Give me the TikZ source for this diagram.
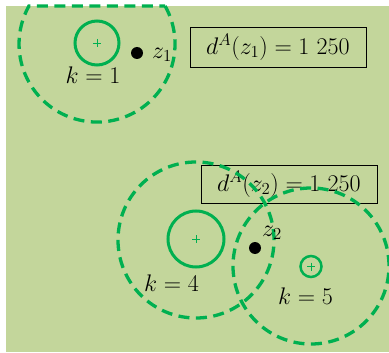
\RequirePackage{fix-cm}
\documentclass[tikz,border=0pt]{standalone}
\definecolor{bg}{HTML}{C3D69B}
\definecolor{ring}{HTML}{00B050}
\begin{document}
\begin{tikzpicture}[x=1pt,y=-1pt,
  txt/.style={font=\fontsize{24}{28}\selectfont, inner sep=0pt, text=black},
  dashring/.style={draw=ring, line width=3.3pt, dash pattern=on 11pt off 6.5pt},
  dashcirc/.style={dashring, circle, inner sep=0pt, minimum size=156pt},
  solidring/.style={draw=ring, line width=3pt, circle, inner sep=0pt},
  ptdot/.style={circle, fill=black, inner sep=0pt, minimum size=12pt},
  valbox/.style={txt, draw=black, line width=0.8pt, minimum width=176pt},
  cross/.style={draw=ring, line width=0.8pt}]
\useasboundingbox (0,0) rectangle (389,353);
\fill[bg] (6,6) rectangle (389,352);
% value boxes
\node[valbox, minimum height=40pt] (b1) at (278,47) {$d^A(z_1) = 1\ 250$};
\node[valbox, minimum height=38pt] (b2) at (289,184) {$d^A(z_2) = 1\ 250$};
% dashed ranges
\coordinate (o1) at (97,44);
\draw[dashring] (165.1,6) arc[start angle=-29.2, end angle=209.2, radius=78] -- cycle;
\node[dashcirc] (d4) at (196,240) {};
\node[dashcirc] (d5) at (311,266) {};
% solid rings
\node[solidring, minimum size=44pt] (c1) at (97,43) {};
\node[solidring, minimum size=56pt] (c4) at (196,239) {};
\node[solidring, minimum size=21pt, line width=2.5pt] (c5) at (311,266.5) {};
\draw[cross] (c1.center) +(-4,0) -- +(4,0) +(0,-4) -- +(0,4);
\draw[cross] (c4.center) +(-4,0) -- +(4,0) +(0,-4) -- +(0,4);
\draw[cross] (c5.center) +(-4,0) -- +(4,0) +(0,-4) -- +(0,4);
% points
\node[ptdot] (z1) at (137,53) {};
\node[ptdot] (z2) at (255,248) {};
\node[txt] (lz1) at (162,55) {$z_1$};
\node[txt] (lz2) at (272,233) {$z_2$};
% labels
\node[txt] (k1) at (93,75.5) {$k=1$};
\node[txt] (k4) at (171.5,283) {$k=4$};
\node[txt] (k5) at (305.5,296.5) {$k=5$};
\end{tikzpicture}
\end{document}
